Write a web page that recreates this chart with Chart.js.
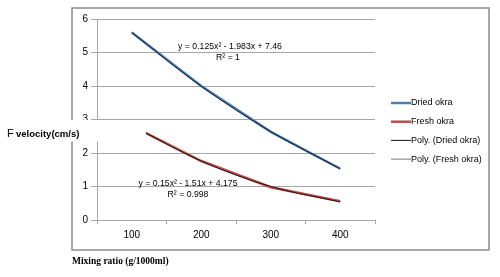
<!DOCTYPE html>
<html>
<head>
<meta charset="utf-8">
<script src="https://cdn.jsdelivr.net/npm/chart.js@4/dist/chart.umd.min.js"></script>
<style>
  html, body { margin: 0; padding: 0; background: #fff; }
  #wrap { width: 500px; height: 277px; }
</style>
</head>
<body>
<div id="wrap"><canvas id="chart" width="500" height="277"></canvas></div>
<script>
// data
var mixingRatio = ['100', '200', '300', '400'];
var driedOkra = [5.6, 4.0, 2.63, 1.53];
var freshOkra = [2.81, 1.76, 0.98, 0.56];
var polyDried = [5.6, 3.99, 2.64, 1.53];
var polyFresh = [2.82, 1.76, 1.0, 0.54];
var eqDried = ['y = 0.125x\u00b2 - 1.983x + 7.46', 'R\u00b2 = 1'];
var eqFresh = ['y = 0.15x\u00b2 - 1.51x + 4.175', 'R\u00b2 = 0.998'];

var gridCol = '#a6a6a6';
var font = 'Liberation Sans, Arial, sans-serif';

// frame, y label box, trend equations, legend, x title
var extras = {
  id: 'extras',
  beforeDraw: function (chart) {
    var c = chart.ctx;
    c.save();
    c.fillStyle = '#fff';
    c.fillRect(0, 0, chart.width, chart.height);
    c.restore();
  },
  afterDraw: function (chart) {
    var c = chart.ctx;
    var y = chart.scales.y;
    c.save();

    // outer frame
    c.strokeStyle = '#8c8c8c';
    c.lineWidth = 1.5;
    c.strokeRect(72, 8, 417, 242);

    // white text box over the axis with the y title
    c.fillStyle = '#fff';
    c.fillRect(0, 120, 146, 21.5);
    c.fillStyle = '#000';
    c.textBaseline = 'alphabetic';
    c.textAlign = 'left';
    c.font = '11px ' + font;
    c.fillText('F', 7, 136.5);
    c.font = 'bold 9.5px ' + font;
    c.fillText('velocity(cm/s)', 16, 136.5);

    // trendline equations
    c.font = '8.7px ' + font;
    c.textAlign = 'center';
    c.textBaseline = 'middle';
    c.fillText(eqDried[0], 230, y.getPixelForValue(5.19));
    c.fillText(eqDried[1], 228, y.getPixelForValue(4.85));
    c.fillText(eqFresh[0], 188, y.getPixelForValue(1.1));
    c.fillText(eqFresh[1], 188, y.getPixelForValue(0.77));

    // legend
    c.textAlign = 'left';
    c.font = '9px ' + font;
    chart.data.datasets.forEach(function (ds, i) {
      var ly = 103 + i * 18.7;
      c.strokeStyle = ds.legendColor || ds.borderColor;
      c.lineWidth = ds.legendWidth || ds.borderWidth;
      c.beginPath();
      c.moveTo(391, ly);
      c.lineTo(411, ly);
      c.stroke();
      c.fillStyle = '#000';
      c.fillText(ds.label, 411, ly);
    });

    // x axis title
    c.font = 'bold 9.5px Liberation Serif, Times New Roman, serif';
    c.textAlign = 'left';
    c.fillText('Mixing ratio (g/1000ml)', 72, 262);
    c.restore();
  }
};

var ctx = document.getElementById('chart');
var chart = new Chart(ctx, {
  type: 'line',
  data: {
    labels: mixingRatio,
    datasets: [{
      label: 'Dried okra',
      data: driedOkra,
      borderColor: '#4a7ebb',
      borderWidth: 2.5,
      pointRadius: 0,
      order: 1
    }, {
      label: 'Fresh okra',
      data: freshOkra,
      borderColor: '#be4b48',
      borderWidth: 2.5,
      pointRadius: 0,
      order: 1
    }, {
      label: 'Poly. (Dried okra)',
      data: polyDried,
      borderColor: '#111',
      legendWidth: 1,
      borderWidth: 0.9,
      pointRadius: 0,
      cubicInterpolationMode: 'monotone',
      order: 0
    }, {
      label: 'Poly. (Fresh okra)',
      data: polyFresh,
      borderColor: '#111',
      legendColor: '#777',
      legendWidth: 1,
      borderWidth: 0.9,
      pointRadius: 0,
      cubicInterpolationMode: 'monotone',
      order: 0
    }]
  },
  options: {
    responsive: false,
    animation: false,
    devicePixelRatio: 1,
    layout: { padding: { left: 0, right: 125, top: 19, bottom: 0 } },
    plugins: {
      legend: { display: false },
      tooltip: { enabled: false }
    },
    scales: {
      x: {
        offset: true,
        grid: { offset: true, drawOnChartArea: false, color: gridCol, tickLength: 4 },
        border: { color: gridCol },
        ticks: { color: '#000', font: { family: font, size: 10 }, padding: 5 },
        afterFit: function (s) { s.height = 57; }
      },
      y: {
        min: 0,
        max: 6,
        grid: { color: gridCol, tickLength: 6 },
        border: { color: gridCol },
        ticks: { stepSize: 1, color: '#000', font: { family: font, size: 10 }, padding: 3 },
        afterFit: function (s) { s.width = 97; }
      }
    }
  },
  plugins: [extras]
});
</script>
</body>
</html>
